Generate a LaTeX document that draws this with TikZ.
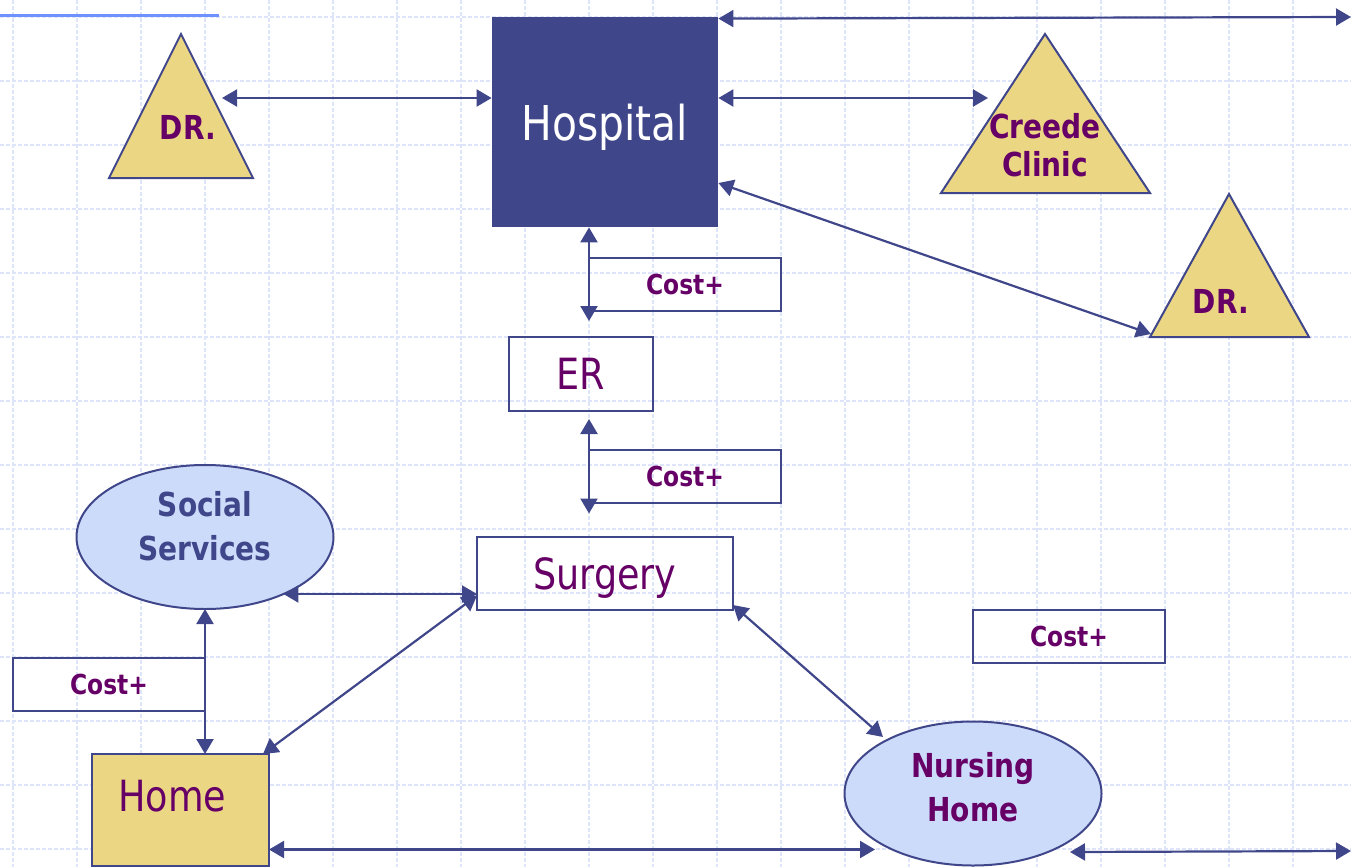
\documentclass[tikz,border=0pt]{standalone}
\usepackage{fontspec}
\setmainfont{DejaVu Sans}[FakeStretch=0.85]
\usetikzlibrary{shapes}
\usetikzlibrary{positioning}
\usetikzlibrary{arrows.meta}
\definecolor{navy}{RGB}{64,70,138}
\definecolor{plum}{RGB}{102,0,102}
\definecolor{sand}{RGB}{235,214,131}
\definecolor{sky}{RGB}{204,219,250}
\definecolor{gridblue}{RGB}{222,229,250}
\definecolor{topblue}{RGB}{110,145,255}
\tikzset{
    Box/.style = {rectangle, draw=navy, line width=2pt, inner sep=0pt, outer sep=0pt, text=plum, text depth=0pt, font=\fontsize{43}{50}\selectfont}
}
\tikzset{
    Edge/.style = {draw=navy, line width=2.2pt, {Triangle[length=15pt,width=17pt]}-{Triangle[length=15pt,width=17pt]}}
}

\begin{document}
\begin{tikzpicture}[
    x=1pt, y=-1pt,
    thick
]
\tikzset{
    Grid/.style = {draw=gridblue, line width=1.1pt, dash pattern=on 4pt off 2pt},
    Tri/.style = {draw=navy, line width=2pt, fill=sand},
    Cost/.style = {Box, minimum width=192pt, minimum height=53pt, font=\bfseries\fontsize{27.5}{30}\selectfont},
    Ell/.style = {ellipse, draw=navy, line width=2pt, fill=sky, inner sep=0pt, outer sep=0pt, minimum width=257pt, minimum height=144pt, align=center, font=\bfseries\fontsize{33}{44}\selectfont},
    Lbl/.style = {text=plum, inner sep=0pt, font=\bfseries\fontsize{33}{38}\selectfont},
}
\useasboundingbox (0,0) rectangle (1351,867);
% grid
\foreach \gx in {13,77,...,1293}
    \draw[Grid] (\gx,0) -- (\gx,867);
\foreach \gy in {17,81,...,849}
    \draw[Grid] (0,\gy) -- (1351,\gy);
\draw[topblue, line width=3pt] (0,16) -- (219,16);

% hospital and the doctors
\node[rectangle, fill=navy, minimum width=226pt, minimum height=210pt, inner sep=0pt, text=white, text depth=0pt, font=\fontsize{48}{56}\selectfont] (hosp) at (605,122) {Hospital};
\draw[Tri] (181,34) -- (253,178) -- (109,178) -- cycle;
\node[Lbl, anchor=base] (dr1) at (188,139) {DR.};
\draw[Tri] (1045,34) -- (1150,193) -- (941,193) -- cycle;
\node[Lbl, align=center] (creede) at (1045,145.5) {Creede\\Clinic};
\draw[Tri] (1229,194) -- (1309,337) -- (1150,337) -- cycle;
\node[Lbl, anchor=base] (dr2) at (1221,313) {DR.};

% care steps
\node[Box, minimum width=144pt, minimum height=74pt] (er) at (581,374) {ER};
\node[Box, minimum width=256pt, minimum height=73pt] (surg) at (605,573.5) {Surgery};
\node[Box, fill=sand, minimum width=177pt, minimum height=112pt, text width=124pt, align=left, text depth=29pt] (home) at (180.5,810) {Home};
\node[Ell, text=navy, text depth=22pt] (social) at (205,537) {Social\\Services};
\node[Ell, text=plum, text depth=13pt] (nurs) at (973,793.5) {Nursing\\Home};

\node[Cost] (c1) at (685,284.5) {Cost+};
\node[Cost] (c2) at (685,476) {Cost+};
\node[Cost] (c3) at (109,684.5) {Cost+};
\node[Cost] (c4) at (1069,636) {Cost+};

% free ends
\coordinate (dr1r) at (222,98);
\coordinate (creedel) at (988,98);
\coordinate (dr2l) at (1151,334);
\coordinate (edgetop) at (1351,17);
\coordinate (nursul) at (883,737);
\coordinate (nursl) at (875,849.5);
\coordinate (nursr) at (1070,852);
\coordinate (edgebot) at (1351,851);

\path (dr1r) edge [Edge] (dr1r -| hosp.west);
\path ([yshift=-2pt]hosp.north east) edge [Edge] (edgetop);
\path (hosp.east |- creedel) edge [Edge] (creedel);
\path ([yshift=-61pt]hosp.east) edge [Edge] (dr2l);
\path (hosp.south -| c1.west) edge [Edge, shorten >=16pt] (er.north -| c1.west);
\path (er.south -| c2.west) edge [Edge, shorten <=8pt, shorten >=23.5pt] (surg.north -| c2.west);
\path (social.-36) edge [Edge] (social.-36 -| surg.west);
\path ([xshift=-6pt]home.north east) edge [Edge] ([yshift=-22pt]surg.west);
\path (social.south) edge [Edge] (social.south |- home.north);
\path ([yshift=5pt]surg.south east) edge [Edge] (nursul);
\path (home.east |- nursl) edge [Edge] (nursl);
\path (nursr) edge [Edge] (edgebot);
\end{tikzpicture}
\end{document}
